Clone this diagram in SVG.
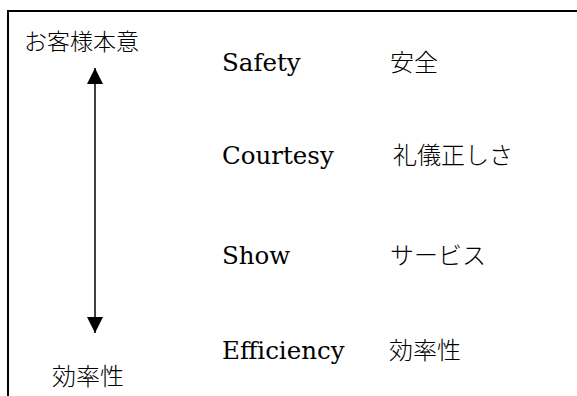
<svg xmlns="http://www.w3.org/2000/svg" width="577" height="396" viewBox="0 0 577 396">
<style>
.en{font-family:"DejaVu Serif","Liberation Serif",serif;font-size:24.5px;fill:#000}
.ja{font-family:"Noto Sans CJK JP",sans-serif;font-size:24px;fill:#000;font-weight:300}
.frame{stroke:#000;stroke-width:2;fill:none}
</style>
<defs>
<marker id="ah" viewBox="0 0 10 10" refX="10" refY="5" markerWidth="16" markerHeight="16" markerUnits="userSpaceOnUse" orient="auto-start-reverse">
<path d="M0,0 L10,5 L0,10 Z" fill="#000"/>
</marker>
</defs>
<path class="frame" d="M8,396 V11 H577"/>
<g id="connectors">
<line x1="95" y1="68" x2="95" y2="333" stroke="#000" stroke-width="1.5" marker-start="url(#ah)" marker-end="url(#ah)"/>
</g>
<g id="top-label"><text class="ja" x="24" y="50" style="font-size:23px">お客様本意</text></g>
<g id="bottom-label"><text class="ja" x="52" y="385">効率性</text></g>
<g id="safety"><text class="en" x="222" y="71">Safety</text><text class="ja" x="390" y="71">安全</text></g>
<g id="courtesy"><text class="en" x="222" y="164">Courtesy</text><text class="ja" x="393" y="164">礼儀正しさ</text></g>
<g id="show"><text class="en" x="222" y="264">Show</text><text class="ja" x="390" y="264">サービス</text></g>
<g id="efficiency"><text class="en" x="222" y="359">Efficiency</text><text class="ja" x="389" y="359">効率性</text></g>
</svg>
